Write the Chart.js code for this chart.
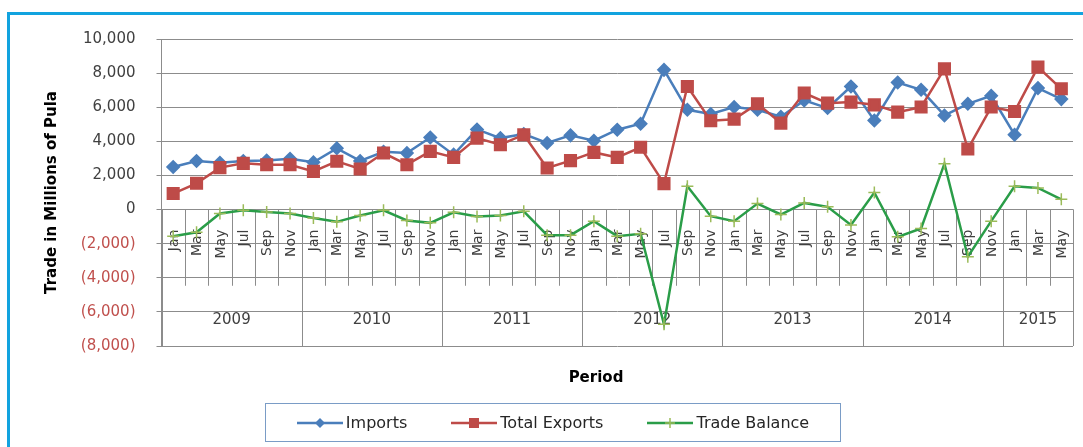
<!DOCTYPE html>
<html>
<head>
<meta charset="utf-8">
<script src="https://cdn.jsdelivr.net/npm/chart.js@4.4.1/dist/chart.umd.min.js"></script>
<style>
    html, body { margin: 0; padding: 0; background: #fff; overflow: hidden; }
    #wrap { position: relative; width: 1083px; height: 447px; }
    #frame {
        position: absolute; left: 7px; top: 12px; width: 1090px; height: 450px;
        border-left: 3px solid #12a3df; border-top: 3px solid #12a3df;
    }
    canvas { position: absolute; left: 0; top: 0; }
    #legend {
        position: absolute; left: 265px; top: 403px; width: 574px; height: 37px;
        border: 1px solid #7a9cc6; display: flex; align-items: center; justify-content: center;
        gap: 44px; font-family: "DejaVu Sans", sans-serif; font-size: 16px; color: #262626;
    }
    #legend .item { display: flex; align-items: center; gap: 3px; }
</style>
</head>
<body>
<div id="wrap">
    <div id="frame"></div>
    <canvas id="tradeChart" width="1083" height="447"></canvas>
    <div id="legend">
        <div class="item">
            <svg width="46" height="14"><line x1="0" y1="7" x2="46" y2="7" stroke="#4a7ebb" stroke-width="2.5"/><polygon points="23,2 28,7 23,12 18,7" fill="#4a7ebb"/></svg>
            <span>Imports</span>
        </div>
        <div class="item">
            <svg width="46" height="14"><line x1="0" y1="7" x2="46" y2="7" stroke="#be4b48" stroke-width="2.5"/><rect x="18" y="2" width="10" height="10" fill="#be4b48"/></svg>
            <span>Total Exports</span>
        </div>
        <div class="item">
            <svg width="46" height="14"><line x1="0" y1="7" x2="46" y2="7" stroke="#2a9d48" stroke-width="2.5"/><line x1="23" y1="2" x2="23" y2="12" stroke="#9bbb59" stroke-width="1.5"/><line x1="18" y1="7" x2="28" y2="7" stroke="#9bbb59" stroke-width="1.5"/></svg>
            <span>Trade Balance</span>
        </div>
    </div>
</div>
<script>
// Period labels (bi-monthly) and year groups
const months = ['Jan', 'Mar', 'May', 'Jul', 'Sep', 'Nov',
    'Jan', 'Mar', 'May', 'Jul', 'Sep', 'Nov',
    'Jan', 'Mar', 'May', 'Jul', 'Sep', 'Nov',
    'Jan', 'Mar', 'May', 'Jul', 'Sep', 'Nov',
    'Jan', 'Mar', 'May', 'Jul', 'Sep', 'Nov',
    'Jan', 'Mar', 'May', 'Jul', 'Sep', 'Nov',
    'Jan', 'Mar', 'May'];
const years = ['2009', '2010', '2011', '2012', '2013', '2014', '2015'];
const yearSpans = [6, 6, 6, 6, 6, 6, 3];

// Trade in millions of Pula
const imports = [2500, 2850, 2750, 2850, 2880, 2980,
    2770, 3590, 2850, 3390, 3310, 4230,
    3220, 4700, 4190, 4430, 3900, 4350,
    4040, 4680, 5030, 8190, 5850, 5600,
    6010, 5850, 5440, 6400, 5950, 7215,
    5225, 7450, 7020, 5520, 6200, 6670,
    4390, 7120, 6475];
const totalExports = [940, 1540, 2460, 2710, 2630, 2630,
    2240, 2830, 2380, 3315, 2630, 3410,
    3060, 4190, 3800, 4390, 2440, 2870,
    3350, 3060, 3650, 1520, 7215, 5210,
    5300, 6200, 5070, 6830, 6240, 6300,
    6140, 5710, 6010, 8250, 3550, 6010,
    5750, 8350, 7080];
const tradeBalance = [-1560, -1330, -230, -40, -140, -230,
    -490, -720, -350, -40, -640, -780,
    -160, -410, -350, -100, -1500, -1500,
    -680, -1560, -1420, -6730, 1365, -390,
    -680, 350, -290, 390, 160, -900,
    1000, -1600, -1110, 2690, -2770, -680,
    1365, 1270, 600];

// Y axis range
const yMin = -8000;
const yMax = 10000;
const yStep = 2000;

const FONT = '"DejaVu Sans", sans-serif';
const GRID = '#8c8c8c';
const TEXT = '#404040';

function formatTick(v) {
    const s = Math.abs(v).toLocaleString('en-US');
    return v < 0 ? '(' + s + ')' : s;
}

// Draws the two-level category table (months / years) sitting on the zero line
const categoryTable = {
    id: 'categoryTable',
    beforeDatasetsDraw(chart) {
        const {ctx, chartArea, scales: {x, y}} = chart;
        const n = months.length;
        const step = (chartArea.right - chartArea.left) / n;
        const y0 = y.getPixelForValue(0);
        const yMid = y.getPixelForValue(-4000);
        const yBottom = y.getPixelForValue(yMin);

        ctx.save();
        ctx.strokeStyle = GRID;
        ctx.lineWidth = 1;

        // month separators with small ticks below the box
        for (let k = 0; k <= n; k++) {
            const bx = Math.round(chartArea.left + k * step) + 0.5;
            ctx.beginPath();
            ctx.moveTo(bx, y0);
            ctx.lineTo(bx, yMid + 8);
            ctx.stroke();
        }

        // year separators
        let k = 0;
        const bounds = [0];
        yearSpans.forEach(s => { k += s; bounds.push(k); });
        bounds.forEach(b => {
            const bx = Math.round(chartArea.left + b * step) + 0.5;
            ctx.beginPath();
            ctx.moveTo(bx, yMid);
            ctx.lineTo(bx, yBottom);
            ctx.stroke();
        });
        // right edge of the table
        const rx = Math.round(chartArea.right) + 0.5;
        ctx.beginPath();
        ctx.moveTo(rx, y0);
        ctx.lineTo(rx, yBottom);
        ctx.stroke();

        // month labels, rotated
        ctx.fillStyle = TEXT;
        ctx.font = '14px ' + FONT;
        ctx.textAlign = 'right';
        ctx.textBaseline = 'middle';
        months.forEach((m, i) => {
            ctx.save();
            ctx.translate(x.getPixelForValue(i), y0 + 20);
            ctx.rotate(-Math.PI / 2);
            ctx.fillText(m, 0, 1);
            ctx.restore();
        });

        // year labels
        ctx.textAlign = 'center';
        ctx.font = '15px ' + FONT;
        const yearY = y.getPixelForValue(-6500);
        years.forEach((yr, i) => {
            const cx = chartArea.left + (bounds[i] + bounds[i + 1]) / 2 * step;
            ctx.fillText(yr, cx, yearY);
        });

        // axis title below the table
        ctx.fillStyle = '#000';
        ctx.font = 'bold 15px ' + FONT;
        ctx.fillText('Period', 596, yBottom + 32);
        ctx.restore();
    }
};

const chart = new Chart(document.getElementById('tradeChart'), {
    type: 'line',
    data: {
        labels: months,
        datasets: [
            {
                label: 'Imports',
                data: imports,
                borderColor: '#4a7ebb',
                backgroundColor: '#4a7ebb',
                borderWidth: 2.5,
                pointStyle: 'rectRot',
                pointRadius: 5.5,
                order: 3
            },
            {
                label: 'Total Exports',
                data: totalExports,
                borderColor: '#be4b48',
                backgroundColor: '#be4b48',
                borderWidth: 2.5,
                pointStyle: 'rect',
                pointRadius: 7.5,
                order: 2
            },
            {
                label: 'Trade Balance',
                data: tradeBalance,
                borderColor: '#2a9d48',
                backgroundColor: '#9bbb59',
                pointBorderColor: '#9bbb59',
                pointBorderWidth: 1.5,
                borderWidth: 2.5,
                pointStyle: 'cross',
                pointRadius: 6,
                order: 1
            }
        ]
    },
    options: {
        responsive: false,
        animation: false,
        layout: {
            padding: { left: 43, right: 10, top: 39, bottom: 101 }
        },
        elements: {
            line: { tension: 0 }
        },
        plugins: {
            legend: { display: false },
            tooltip: { enabled: false }
        },
        scales: {
            x: {
                display: false,
                offset: true
            },
            y: {
                min: yMin,
                max: yMax,
                afterFit(scale) { scale.width = 118.5; },
                ticks: {
                    stepSize: yStep,
                    padding: 21,
                    font: { family: FONT, size: 15 },
                    color: ctx => ctx.tick.value < 0 ? '#c0504d' : TEXT,
                    callback: v => formatTick(v)
                },
                grid: {
                    color: GRID,
                    tickLength: 5
                },
                border: { color: GRID },
                title: {
                    display: true,
                    text: 'Trade in Millions of Pula',
                    color: '#000',
                    padding: 0,
                    font: { family: FONT, size: 15, weight: 'bold' }
                }
            }
        }
    },
    plugins: [categoryTable]
});
</script>
</body>
</html>
